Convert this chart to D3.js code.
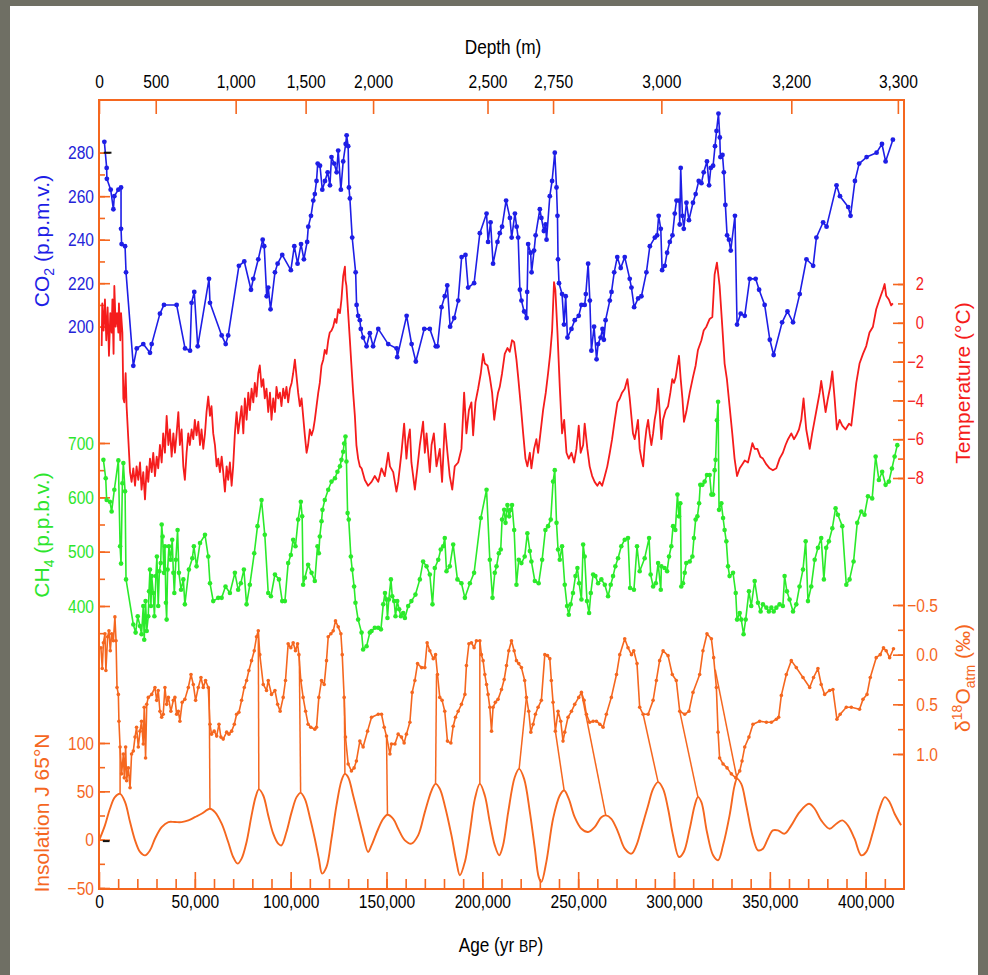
<!DOCTYPE html>
<html><head><meta charset="utf-8">
<script src="https://cdn.jsdelivr.net/npm/d3@7"></script>
<style>
html,body{margin:0;padding:0;background:#6f6f64;}
svg{display:block;}
</style></head><body>
<svg id="chart" width="988" height="975"></svg>
<script>
// ---------------- DATA ----------------
// CO2 (p.p.m.v.)  [age yr BP, value]
const co2 = [[2800,285],[4000,273],[4100,268],[6100,263],[7500,254],[8000,260],[10100,263],[11500,264],[11500,245],[11800,238],[13600,237],[14100,225],[17900,182],[19700,190],[23100,192],[26600,188],[27500,192],[31800,206],[33900,210],[40500,210],[44900,190],[47500,189],[48300,211],[49700,216],[51500,191],[57400,222],[57900,211],[64000,196],[66100,192],[67400,196],[73000,228],[75800,230],[79300,217],[80500,222],[83100,231],[85400,240],[86200,237],[87500,214],[88300,218],[89500,208],[91800,225],[93200,229],[95600,233],[100100,226],[101900,237],[103600,229],[105400,238],[106900,231],[108600,239],[109200,246],[110600,251],[111800,258],[112600,261],[113500,267],[114100,275],[115300,274],[116500,263],[117900,267],[119300,271],[120500,265],[121300,278],[122700,275],[124000,271],[124800,281],[126200,263],[127400,276],[128700,284],[129200,288],[130000,283],[130400,264],[130900,259],[132100,241],[133900,225],[134400,210],[135200,205],[136100,203],[136600,199],[137800,195],[139600,191],[141300,197],[143000,191],[145700,199],[150900,192],[155300,190],[155600,186],[160500,205],[163100,192],[165300,184],[169700,199],[172600,199],[175700,191],[176600,191],[178700,209],[180400,214],[181700,219],[183200,200],[185300,204],[187400,212],[189200,232],[191200,233],[192600,218],[195700,220],[198700,243],[202200,252],[203000,239],[204300,248],[205600,229],[207900,239],[209100,243],[210300,246],[212400,258],[214400,250],[215300,241],[217000,252],[217900,246],[218700,241],[219600,217],[220400,212],[221800,207],[223100,204],[223400,216],[223900,238],[225200,234],[225700,225],[227000,235],[227800,242],[230000,254],[230800,250],[232100,244],[233000,247],[233500,240],[235200,260],[236400,267],[237800,280],[238700,264],[239200,251],[239500,231],[240000,220],[241600,215],[242600,201],[243500,214],[244400,195],[246500,199],[248200,203],[250300,205],[251700,210],[253400,210],[254000,215],[255200,229],[256100,212],[256900,189],[258300,200],[259600,185],[260400,192],[261700,195],[262700,199],[263400,194],[264300,203],[266500,212],[267400,216],[268800,225],[270400,232],[272200,227],[274300,232],[276900,222],[277800,218],[279200,209],[281300,213],[283000,214],[285600,225],[287400,237],[290000,241],[291200,242],[292000,251],[293100,245],[293800,226],[295200,228],[296400,234],[297800,239],[299200,242],[300400,252],[301300,258],[302700,258],[303000,247],[303500,273],[304400,251],[305100,245],[306500,257],[307800,249],[309900,257],[311300,261],[312900,267],[314300,266],[315500,271],[317200,276],[318300,265],[319200,273],[320400,274],[321400,283],[322200,290],[323200,298],[323900,287],[324200,278],[325300,279],[326000,271],[326800,256],[327700,242],[328700,240],[329600,235],[331800,251],[332900,201],[334800,206],[336900,205],[339500,222],[342600,222],[344400,217],[347300,210],[350000,194],[352000,187],[356400,202],[359200,207],[362100,202],[365600,215],[369100,231],[372600,228],[374300,241],[377800,248],[379600,246],[384800,265],[386600,260],[390900,255],[392100,251],[394400,267],[396600,275],[400500,278],[405700,280],[408500,284],[410400,276],[414200,286]];

// Temperature (°C)  [age, value]
const temperature = [[1400,-1.2],[1700,1.0],[2400,-0.4],[3100,1.2],[3800,-0.9],[4500,0.8],[5200,-1.7],[5900,0.5],[6600,-0.5],[7000,1.2],[7600,-1.6],[8000,1.9],[8700,-0.2],[9400,0.5],[10100,-0.5],[10400,1.0],[11100,-0.9],[11500,0.5],[12200,-0.5],[12700,-3.9],[13200,-4.1],[13900,-2.6],[14400,-4.3],[15300,-6.0],[16200,-7.7],[17000,-8.2],[17900,-7.5],[18800,-8.4],[19600,-7.4],[20500,-8.1],[21400,-7.2],[22200,-8.6],[23100,-7.7],[24000,-9.1],[24900,-7.4],[25700,-8.2],[26600,-7.0],[27500,-7.7],[28300,-6.7],[29200,-7.9],[30100,-6.9],[30900,-7.5],[31800,-6.3],[32700,-7.2],[33500,-5.7],[34400,-6.7],[35300,-4.8],[36200,-6.3],[37000,-5.5],[37900,-6.9],[38800,-5.7],[39600,-6.7],[40500,-5.7],[41400,-4.6],[42200,-6.3],[43100,-5.5],[44000,-7.4],[44800,-8.1],[45700,-6.7],[46600,-5.7],[47400,-6.3],[48300,-5.5],[49200,-6.0],[50000,-5.0],[50900,-5.8],[51800,-5.1],[52700,-6.3],[53500,-5.5],[54400,-6.5],[55300,-5.7],[56100,-4.6],[57000,-3.8],[57900,-4.8],[58700,-4.3],[59600,-5.7],[60500,-6.3],[61400,-7.4],[62200,-7.0],[63100,-7.7],[64000,-6.9],[64800,-7.7],[65700,-8.7],[66600,-7.4],[67400,-8.1],[68300,-7.2],[69200,-8.4],[70000,-7.4],[70900,-5.7],[71800,-4.6],[72600,-5.7],[73500,-5.0],[74400,-4.3],[75300,-5.7],[76100,-3.9],[77000,-5.0],[77900,-3.6],[78700,-4.5],[79600,-3.4],[80500,-4.1],[81300,-3.1],[82200,-3.8],[83100,-2.6],[83900,-2.2],[84800,-3.3],[85700,-2.9],[86500,-3.9],[87400,-3.4],[88300,-4.6],[89200,-3.6],[90000,-5.0],[90900,-3.9],[91800,-4.6],[92600,-3.3],[93500,-3.9],[94400,-3.6],[95200,-4.3],[96100,-3.4],[97000,-3.9],[97800,-3.3],[98700,-4.1],[99600,-3.4],[100500,-3.1],[101300,-2.6],[102200,-1.9],[103100,-2.8],[103900,-3.6],[104800,-4.3],[105700,-3.9],[106500,-4.8],[107400,-5.8],[108300,-6.7],[109100,-6.3],[110000,-5.5],[110900,-5.8],[111800,-5.5],[112600,-5.0],[113500,-4.3],[114400,-3.6],[115200,-3.1],[116100,-2.2],[117000,-1.9],[117800,-1.4],[118700,-1.6],[119600,-0.9],[120400,-0.5],[121300,-0.4],[122200,-0.2],[123100,0.2],[123900,0.0],[124800,0.7],[125700,0.5],[126500,1.2],[127400,2.4],[128300,2.9],[128600,2.2],[129100,1.9],[130000,0.5],[130900,-0.9],[131700,-2.2],[132600,-3.6],[133500,-4.8],[134300,-6.3],[135200,-7.0],[136100,-7.4],[137000,-7.5],[138700,-8.1],[140400,-8.4],[142200,-8.2],[143900,-7.9],[145700,-8.2],[147400,-7.5],[149100,-7.9],[150900,-6.7],[151800,-7.4],[153500,-7.7],[155200,-8.7],[156100,-8.2],[157800,-6.7],[159200,-5.2],[160400,-7.0],[161300,-6.0],[162200,-5.5],[163000,-7.2],[164800,-8.6],[166200,-7.4],[167400,-6.3],[169100,-5.1],[170000,-6.7],[170900,-5.7],[172600,-7.7],[173500,-6.3],[174700,-5.7],[176100,-7.4],[177800,-6.5],[179000,-8.2],[180400,-5.2],[181800,-6.7],[183000,-7.9],[184300,-8.6],[185600,-7.4],[187400,-7.2],[189100,-6.5],[190500,-3.6],[191700,-5.7],[193000,-4.5],[194300,-4.1],[195200,-5.8],[196400,-4.1],[197800,-3.4],[199200,-2.6],[200400,-1.6],[201300,-2.1],[202700,-2.2],[203900,-2.8],[205100,-3.6],[206200,-5.0],[207400,-4.1],[208200,-3.6],[209100,-3.3],[210300,-2.6],[211700,-1.6],[213100,-1.3],[214300,-1.5],[215500,-0.9],[216600,-1.0],[217800,-1.9],[218700,-2.8],[220100,-4.3],[221300,-5.7],[222500,-7.0],[223500,-7.4],[224800,-6.7],[225600,-7.5],[227000,-6.5],[228200,-6.0],[229100,-6.7],[230300,-5.7],[231700,-4.5],[233100,-3.6],[234300,-2.6],[235400,-1.6],[236400,-0.4],[237400,2.1],[238100,1.7],[239200,-0.5],[240400,-3.3],[241600,-5.7],[242700,-5.0],[243900,-6.7],[245100,-7.0],[246500,-6.7],[247900,-7.2],[249100,-6.5],[250300,-5.3],[251300,-6.7],[252600,-6.3],[253400,-5.2],[254800,-6.5],[256000,-7.4],[257300,-7.9],[258600,-8.2],[260000,-8.4],[261200,-8.2],[262500,-8.4],[263900,-7.9],[265200,-7.4],[266500,-6.7],[267700,-6.0],[269100,-5.0],[270500,-4.1],[271700,-3.9],[272900,-3.6],[274300,-3.4],[275700,-2.9],[276900,-3.9],[278600,-5.7],[279500,-6.0],[280400,-5.5],[281200,-5.0],[282100,-6.5],[283000,-7.0],[283900,-7.4],[284700,-6.3],[285600,-5.5],[286500,-5.0],[287300,-5.7],[288200,-6.3],[289100,-5.7],[289900,-5.0],[290800,-4.5],[291700,-3.4],[292500,-4.5],[293400,-6.0],[294300,-5.0],[295700,-4.5],[296900,-4.3],[298100,-3.6],[299100,-2.9],[300000,-3.1],[300900,-2.8],[301800,-2.2],[302600,-1.7],[303500,-2.9],[304400,-3.9],[305200,-5.1],[306400,-4.6],[308200,-3.6],[309900,-2.8],[311300,-2.2],[312500,-1.4],[314300,-0.9],[315500,-0.4],[316900,-0.2],[318600,0.2],[320000,0.3],[321200,2.5],[322400,3.1],[323800,1.9],[325200,-0.2],[326400,-2.1],[327600,-2.9],[329000,-4.3],[330400,-5.7],[331600,-7.0],[332900,-7.9],[334300,-7.5],[335600,-7.3],[336900,-7.1],[338600,-7.2],[339800,-6.7],[340900,-6.2],[342100,-6.5],[343500,-6.5],[345000,-6.9],[346400,-7.0],[348200,-7.3],[349900,-7.5],[351600,-7.6],[353400,-7.5],[355100,-7.0],[356800,-6.7],[358200,-6.3],[359500,-6.0],[361200,-5.7],[362600,-6.0],[363800,-5.8],[365200,-5.5],[366400,-5.0],[367600,-3.9],[369000,-5.5],[370800,-6.5],[372100,-5.7],[373400,-5.0],[374700,-4.3],[376000,-3.6],[376800,-3.0],[377700,-3.6],[379100,-4.6],[380300,-3.9],[381500,-3.3],[382600,-2.5],[383800,-3.9],[385000,-5.5],[386400,-5.0],[387800,-5.3],[389500,-5.5],[391300,-5.2],[392500,-5.3],[393700,-4.3],[395100,-3.1],[396800,-2.1],[398600,-1.6],[400300,-1.2],[402000,-0.5],[403800,-0.2],[405500,0.7],[407200,1.2],[409000,1.7],[409900,2.0],[410700,1.4],[412100,1.2],[413300,0.9],[414200,1.0]];

// CH4 (p.p.b.v.)  [age, value]
const ch4 = [[2300,669],[3500,635],[4000,595],[5700,592],[6600,574],[8000,614],[10100,668],[11000,510],[11500,478],[12200,626],[12700,663],[13600,611],[14100,449],[17900,366],[19100,351],[20200,381],[21400,363],[22200,348],[23100,400],[23600,338],[24300,409],[24900,354],[25700,381],[26100,427],[26600,467],[27100,400],[27500,455],[28300,424],[28900,381],[29700,455],[30200,491],[30900,400],[31500,464],[32200,479],[32700,550],[33200,528],[33900,461],[34400,510],[34900,406],[35300,375],[35800,467],[36500,510],[37400,485],[38200,522],[38800,461],[39300,424],[40100,485],[41000,540],[41700,461],[42800,430],[44000,449],[44800,403],[46900,467],[48700,488],[49500,510],[50900,473],[52700,516],[55300,531],[57000,491],[57900,442],[59600,409],[62200,415],[64000,415],[66000,436],[68300,424],[70900,461],[72600,430],[74000,442],[75600,467],[77000,403],[78700,439],[81000,497],[82700,547],[84800,595],[86500,531],[88300,424],[89700,418],[91800,458],[93900,449],[95600,409],[97000,409],[98700,479],[100100,494],[101300,522],[102500,510],[103900,559],[105300,592],[106000,565],[106500,439],[107400,452],[109100,476],[110900,461],[112600,446],[114000,510],[114700,497],[115200,528],[116100,556],[116600,577],[117800,595],[119600,614],[121300,629],[123100,635],[124400,647],[125700,657],[126500,669],[127400,684],[127900,699],[128600,712],[129100,666],[129700,571],[130300,559],[131400,491],[132100,467],[133100,436],[133800,406],[135200,375],[137000,351],[137800,320],[139600,326],[141300,351],[142200,354],[143900,360],[145700,360],[147100,357],[148300,403],[149200,424],[150000,412],[150500,378],[151200,412],[152300,449],[153000,418],[154000,409],[154700,381],[155600,409],[156600,394],[157500,381],[158700,387],[159600,378],[161300,400],[163000,409],[165100,421],[167400,449],[169100,482],[170900,473],[172600,458],[174000,403],[175200,470],[177000,485],[178300,504],[179600,510],[180400,525],[181300,464],[183000,473],[184800,513],[187000,449],[189100,442],[190900,415],[193500,442],[195700,461],[199200,562],[202200,614],[203900,485],[205300,415],[206500,461],[207400,473],[208600,497],[209600,504],[210300,559],[211400,577],[212100,553],[213100,586],[214000,565],[214800,577],[215500,586],[216600,540],[217800,439],[219000,485],[220400,479],[222100,491],[223500,534],[224800,501],[225600,482],[227400,446],[229400,442],[231200,485],[232900,540],[234300,547],[235700,559],[236900,629],[237800,650],[238700,553],[239500,504],[240400,485],[241600,510],[243000,439],[244200,400],[245100,384],[246100,403],[247300,424],[248600,455],[249600,470],[250500,442],[251700,412],[252600,513],[253400,491],[254600,409],[255700,387],[256600,424],[257800,458],[259000,455],[260400,442],[262100,449],[263900,439],[265600,418],[267000,439],[268200,455],[269400,473],[270800,488],[272500,510],[274300,522],[276000,525],[277100,433],[279100,430],[280700,510],[282100,464],[284700,488],[287000,525],[287800,458],[289100,436],[290500,442],[291700,479],[293100,430],[293400,473],[295100,470],[296400,464],[297400,491],[298600,510],[299500,547],[300700,540],[301800,605],[302600,565],[303300,589],[303800,436],[304700,442],[305600,461],[306400,479],[308200,482],[309600,491],[310400,525],[311300,559],[312200,565],[313100,589],[313700,623],[314800,623],[316000,629],[317200,641],[318600,641],[319500,605],[320400,605],[321200,650],[321700,669],[322400,742],[323000,776],[323500,577],[324700,589],[325600,562],[326400,540],[327300,519],[328200,473],[329000,455],[330800,461],[332200,424],[332900,375],[334300,387],[335100,375],[336300,348],[337400,375],[339100,427],[340300,400],[342100,446],[343800,406],[345200,390],[346400,403],[348200,397],[349500,390],[350800,397],[352000,390],[353400,397],[355100,403],[356800,400],[357700,455],[358900,427],[360300,412],[362100,390],[363800,403],[365500,436],[367300,467],[368700,519],[369900,409],[371600,436],[373400,485],[375100,507],[376800,525],[378200,449],[379400,507],[380800,519],[382600,543],[384300,580],[385500,568],[387800,547],[389900,439],[391600,449],[393700,482],[395600,553],[397700,574],[399400,568],[401200,602],[403400,598],[405200,675],[406900,632],[408600,647],[410400,623],[412100,629],[413700,653],[415100,675],[416500,696]];

// δ18O atm (‰)  [age, value]
const d18o = [[1000,-0.07],[1700,0.14],[2300,-0.12],[3100,-0.21],[3600,0.16],[4500,-0.18],[5200,-0.24],[5900,-0.04],[6600,-0.21],[7500,-0.14],[8300,-0.38],[8900,-0.14],[9400,0.33],[10100,0.40],[10400,0.67],[11000,0.93],[11800,1.20],[12700,1.00],[13200,1.24],[13900,0.93],[14400,1.27],[15300,1.14],[16200,1.34],[17000,1.00],[17900,0.97],[18800,0.83],[19600,0.73],[20500,0.93],[21400,0.77],[22200,0.67],[23100,0.90],[23600,0.53],[24300,1.04],[24900,0.50],[25700,0.43],[27500,0.40],[29200,0.33],[30100,0.46],[30900,0.36],[31800,0.57],[32700,0.63],[33500,0.60],[34400,0.33],[35300,0.50],[36200,0.43],[37500,0.57],[38800,0.46],[39600,0.43],[40500,0.60],[41400,0.57],[42200,0.67],[43400,0.48],[44800,0.45],[46600,0.33],[48000,0.20],[49200,0.30],[50400,0.46],[51800,0.33],[53200,0.23],[54400,0.33],[55600,0.26],[57000,0.33],[57900,0.70],[58700,0.80],[60100,0.77],[61400,0.82],[62600,0.70],[63600,0.83],[64800,0.85],[66600,0.78],[67800,0.80],[69200,0.77],[70600,0.70],[71800,0.60],[73000,0.58],[74400,0.46],[75800,0.33],[77000,0.26],[78200,0.16],[79600,0.06],[81000,-0.04],[82200,-0.18],[83100,-0.24],[83900,0.00],[85700,0.30],[87400,0.36],[88300,0.26],[90000,0.40],[91800,0.36],[93200,0.50],[94500,0.57],[96100,0.43],[97300,0.26],[98700,-0.11],[100100,-0.07],[101300,-0.12],[102500,-0.04],[103600,-0.11],[104300,0.00],[105300,0.26],[106500,0.43],[107800,0.57],[109100,0.70],[110500,0.73],[112600,0.75],[113500,0.73],[114700,0.43],[116100,0.26],[117500,0.30],[118700,0.06],[119600,-0.18],[121000,-0.21],[122200,-0.24],[123400,-0.34],[124800,-0.28],[126200,-0.21],[126900,0.00],[127900,0.43],[128600,0.83],[130000,1.10],[131700,1.17],[133100,1.14],[134300,1.07],[136100,0.87],[137800,0.93],[140100,0.77],[142200,0.63],[145700,0.60],[147400,0.60],[148800,0.73],[150000,0.82],[151800,1.00],[152600,0.90],[154400,0.90],[156100,0.80],[157800,0.83],[159200,0.89],[160400,0.80],[162200,0.68],[163400,0.38],[164800,0.26],[166200,0.09],[168300,0.13],[170000,0.13],[171200,-0.12],[172600,-0.04],[174400,0.04],[175600,0.00],[176600,0.20],[177800,0.43],[179000,0.46],[180400,0.57],[181800,0.87],[183600,0.89],[184800,0.72],[186000,0.63],[187400,0.57],[189100,0.50],[190900,0.40],[191700,0.11],[193000,-0.11],[194300,-0.12],[195700,-0.07],[196900,-0.14],[198700,-0.14],[199500,0.00],[200400,0.06],[201300,0.20],[202200,0.30],[203000,0.40],[203900,0.53],[204800,0.77],[205600,0.53],[206800,0.48],[208200,0.45],[210000,0.35],[211400,0.25],[212600,0.11],[213800,-0.04],[215200,-0.14],[216600,-0.04],[217800,0.06],[219000,0.09],[220400,0.13],[222100,0.26],[223000,0.43],[224200,0.57],[225300,0.78],[226500,0.70],[227700,0.60],[229100,0.53],[230800,0.46],[232600,0.00],[234000,0.01],[235200,0.04],[236000,0.26],[236900,0.48],[238100,0.77],[239500,0.57],[240900,0.67],[242100,0.87],[243000,0.78],[244700,0.63],[246500,0.57],[248200,0.50],[250300,0.43],[251700,0.38],[253100,0.46],[254300,0.60],[256000,0.68],[257800,0.67],[259500,0.67],[261300,0.70],[263000,0.73],[264700,0.60],[267300,0.43],[270000,0.20],[271700,0.00],[274300,-0.16],[276000,-0.07],[277800,0.00],[279000,-0.04],[280700,0.09],[282100,0.53],[283900,0.60],[286500,0.60],[289100,0.46],[290800,0.26],[292500,0.06],[294300,-0.04],[296900,0.01],[299100,0.20],[301200,0.26],[303000,0.57],[305600,0.60],[307800,0.57],[309900,0.38],[313400,0.20],[315100,-0.04],[317200,-0.21],[319500,-0.16],[320700,0.03],[322100,0.33],[323000,0.78],[323800,1.04],[325600,1.10],[327700,1.14],[329900,1.20],[332200,1.24],[334300,1.17],[335500,1.07],[336900,0.93],[339100,0.83],[341200,0.70],[344700,0.67],[348200,0.68],[350800,0.68],[353400,0.65],[354600,0.63],[356000,0.41],[358600,0.20],[361200,0.06],[363800,0.13],[367300,0.23],[370800,0.33],[372800,0.23],[375100,0.14],[376800,0.30],[378600,0.40],[381200,0.36],[382900,0.35],[385000,0.65],[386700,0.60],[389900,0.53],[392500,0.53],[396800,0.55],[398600,0.45],[400700,0.40],[402400,0.23],[405500,0.03],[407600,0.00],[409300,-0.07],[410700,-0.04],[412500,0.03],[414500,-0.06]];

// Insolation J 65°N  [age, value]
const insolation = [[0,-1],[3100,14.8],[5700,32],[8300,44],[11000,47.4],[13600,38.8],[16200,18.2],[18800,-0.7],[21400,-12.7],[24000,-16.2],[26600,-11],[29200,1],[32700,13],[36200,18.2],[39600,18.2],[43100,18.2],[46600,19.9],[50000,23.3],[53500,26.8],[57900,32],[60500,28.5],[64000,16.5],[67400,-2.4],[70000,-17.9],[72300,-24.8],[74400,-19.6],[77000,-2.4],[79600,25.1],[81700,44],[83400,52],[85700,45.7],[88300,25.1],[90900,6.2],[93500,-4.1],[95200,-5.9],[97800,7.9],[100500,28.5],[103100,44],[105200,48.4],[107400,42.2],[110000,23.3],[112600,1],[114700,-19.6],[116400,-35.1],[118700,-28.2],[121300,1],[123900,35.4],[126500,61],[128300,68],[130000,64.6],[132600,45.7],[135200,25.1],[137800,4.4],[140400,-12.7],[142200,-6],[145700,11.3],[148300,21.6],[150500,25.8],[153500,21.6],[156100,11.3],[159600,-0.7],[163000,-4.1],[166500,4.4],[170000,28.5],[173500,50.8],[175600,57.7],[177800,52.6],[180400,35.4],[183900,4.4],[186500,-23],[188300,-36.8],[190900,-23],[193500,7.9],[196100,42.2],[198700,57.7],[201300,45.7],[203900,18.2],[206500,-5.9],[208800,-16.2],[210800,-5.9],[213500,28.5],[216900,64.6],[219200,73.2],[221800,62.9],[224800,28.5],[227400,-9.3],[229400,-38.5],[230800,-43.7],[233400,-23],[236900,21.6],[240400,45.7],[242700,50.8],[245100,42.2],[248200,23.3],[251700,11.3],[255200,7.9],[258600,13],[262100,23.3],[264400,25.1],[267300,21.6],[270800,7.9],[274300,-9.3],[277800,-14.5],[280400,-5.9],[283000,11.3],[286500,35.4],[289100,52.6],[291700,59.5],[294300,52.6],[296900,32],[299500,4.4],[302600,-17.9],[305100,-12.7],[308200,11.3],[310800,35.4],[312500,44],[314300,38.8],[317200,7.9],[320400,-16.2],[323000,-21.3],[325600,-5.9],[329000,25.1],[331600,55.9],[332900,62.9],[335100,57.7],[337700,35.4],[340900,4.4],[343800,-11],[346400,-9.3],[349000,1],[351600,9.6],[354200,9.6],[357700,6.2],[361200,14.8],[365500,28.5],[370400,37.1],[373400,32],[376800,19.9],[381200,11.3],[384700,16.5],[387800,19.9],[390700,14.8],[394200,1],[397700,-16.2],[400300,-12.7],[403800,7.9],[407200,32],[410000,44],[412500,38.8],[415100,26.8],[418500,14.8]];

// Tie lines between δ18O events and insolation maxima: [age on δ18O, δ18O, age on insolation, insolation]
const tieLines = [[11000,0.93,11000,47.4],[57500,0.33,57900,32],[83100,-0.24,83400,52],[104500,0.0,105200,48.4],[128000,0.43,128300,68],[150000,0.82,150500,25.8],[176100,0.2,175600,57.7],[198700,-0.14,198700,57.7],[223000,0.43,219200,73.2],[238100,0.77,242700,50.8],[251700,0.38,264400,25.1],[283900,0.60,291700,59.5],[303000,0.57,312500,44],[321500,0.15,332900,62.9]];

// Present-day reference marks
const presentMarks = [{axis:"co2", age:[2500,6500], value:280},{axis:"ins", age:[2000,5500], value:-1.5}];

// Axis ticks
const ageTicks = [0,50000,100000,150000,200000,250000,300000,350000,400000];
const ageMinorTicks = d3.range(10000, 420000, 10000);
const depthLabels = ["0","500","1,000","1,500","2,000","2,500","2,750","3,000","3,200","3,300"];
const depthTickAges = [0,29600,71300,107800,143000,202700,236900,293400,361200,416800];
const co2Ticks = [200,220,240,260,280];
const co2MinorTicks = [200,210,220,230,240,250,260,270,280];
const ch4Ticks = [400,500,600,700];
const ch4MinorTicks = [350,400,450,500,550,600,650,700];
const insTicks = [-50,0,50,100];
const insMinorTicks = [-50,-25,0,25,50,75,100];
const tempTicks = [2,0,-2,-4,-6,-8];
const tempMinorTicks = [2,1,0,-1,-2,-3,-4,-5,-6,-7,-8];
const d18Ticks = [-0.5,0,0.5,1.0];
const d18MinorTicks = [-0.5,-0.25,0,0.25,0.5,0.75,1.0];

// ---------------- DRAWING ----------------
const W = 988, H = 975;
const L = 99, R = 904, T = 100, B = 889;
const ORANGE = "#f5671f", BLUE = "#1e1ee6", RED = "#f51c1c", GREEN = "#2bea2b";
const SANS = "'Liberation Sans',Arial,sans-serif";
const SX = 0.82; // horizontal condensation of tick/axis labels

const svg = d3.select("#chart");
svg.append("rect").attr("width", W).attr("height", H).attr("fill", "#6f6f64");
svg.append("rect").attr("x", 10).attr("y", 6).attr("width", 968).attr("height", H - 6).attr("fill", "#ffffff");

const x = d3.scaleLinear().domain([0, 420000]).range([L, R]);
const yCO2 = d3.scaleLinear().domain([200, 280]).range([326.7, 152.7]);
const yT = d3.scaleLinear().domain([-8, 2]).range([478, 284]);
const yCH4 = d3.scaleLinear().domain([400, 700]).range([606, 443]);
const yD = d3.scaleLinear().domain([-0.5, 1.0]).range([605, 754]);
const yI = d3.scaleLinear().domain([-50, 100]).range([888, 743]);

function styleAxis(g, color, size) {
  g.select(".domain").remove();
  g.attr("font-family", SANS).attr("font-size", size || 17);
  g.selectAll(".tick line").attr("stroke", ORANGE).attr("stroke-width", 1.6);
  g.selectAll(".tick text").attr("fill", color);
}
function condense(g) {
  g.selectAll(".tick text").each(function () {
    const t = d3.select(this);
    const xx = +t.attr("x") || 0;
    t.attr("x", xx / SX).attr("transform", `scale(${SX},1)`);
  });
}
const minus = s => String(s).replace("-", "\u2212");

// Left axes
function leftAxis(scale, majors, minors, color, fmt) {
  const gm = svg.append("g").attr("transform", `translate(${L},0)`)
    .call(d3.axisLeft(scale).tickValues(minors).tickSize(-6).tickFormat(""));
  styleAxis(gm, color);
  const g = svg.append("g").attr("transform", `translate(${L},0)`)
    .call(d3.axisLeft(scale).tickValues(majors).tickSize(-11).tickPadding(5).tickFormat(fmt));
  styleAxis(g, color, 19);
  condense(g);
}
leftAxis(yCO2, co2Ticks, co2MinorTicks, "#2424d8", d => d);
leftAxis(yCH4, ch4Ticks, ch4MinorTicks, "#2de52d", d => d);
leftAxis(yI, insTicks, insMinorTicks, ORANGE, d => minus(d));

// Right axes
function rightAxis(scale, majors, minors, color, fmt, endX, size) {
  const gm = svg.append("g").attr("transform", `translate(${R},0)`)
    .call(d3.axisRight(scale).tickValues(minors).tickSize(-6).tickFormat(""));
  styleAxis(gm, color);
  const g = svg.append("g").attr("transform", `translate(${R},0)`)
    .call(d3.axisRight(scale).tickValues(majors).tickSize(-11).tickFormat(fmt));
  styleAxis(g, color, size);
  g.selectAll(".tick text").attr("x", endX).attr("text-anchor", "end");
  condense(g);
}
rightAxis(yT, tempTicks, tempMinorTicks, RED, d => minus(d), 20, 18);
rightAxis(yD, d18Ticks, d18MinorTicks, ORANGE, d => minus(d3.format(".1f")(d)), 34, 19);

// Bottom axis
const gbm = svg.append("g").attr("transform", `translate(0,${B})`)
  .call(d3.axisBottom(x).tickValues(ageMinorTicks).tickSize(-10).tickFormat(""));
styleAxis(gbm, "#000");
const gb = svg.append("g").attr("transform", `translate(0,${B})`)
  .call(d3.axisBottom(x).tickValues(ageTicks).tickSize(-17).tickPadding(6).tickFormat(d3.format(",")));
styleAxis(gb, "#000", 19);
condense(gb);

// Top (depth) axis
const gt = svg.append("g").attr("transform", `translate(0,${T})`)
  .call(d3.axisTop(x).tickValues(depthTickAges).tickSize(-14).tickPadding(12).tickFormat((d, i) => depthLabels[i]));
styleAxis(gt, "#000", 19);
condense(gt);

// Frame
svg.append("rect").attr("x", L).attr("y", T).attr("width", R - L).attr("height", B - T)
  .attr("fill", "none").attr("stroke", ORANGE).attr("stroke-width", 2);

// Series
const plot = svg.append("g");
function series(data, ys, color, width, r, curve) {
  const line = d3.line().x(d => x(d[0])).y(d => ys(d[1])).curve(curve || d3.curveLinear);
  plot.append("path").datum(data).attr("d", line).attr("fill", "none")
    .attr("stroke", color).attr("stroke-width", width).attr("stroke-linejoin", "round");
  if (r) plot.append("g").selectAll("circle").data(data).join("circle")
    .attr("cx", d => x(d[0])).attr("cy", d => ys(d[1])).attr("r", r).attr("fill", color);
}
series(insolation, yI, ORANGE, 1.9, 0, d3.curveCatmullRom.alpha(0.5));
plot.append("g").selectAll("line").data(tieLines).join("line")
  .attr("x1", d => x(d[0])).attr("y1", d => yD(d[1]))
  .attr("x2", d => x(d[2])).attr("y2", d => yI(d[3]))
  .attr("stroke", ORANGE).attr("stroke-width", 1.5);
series(d18o, yD, ORANGE, 1.6, 1.8);
series(ch4, yCH4, GREEN, 1.6, 2.3);
series(temperature, yT, RED, 1.8, 0);
series(co2, yCO2, BLUE, 1.6, 2.4);

// present-day marks
plot.append("g").selectAll("line").data(presentMarks).join("line")
  .attr("x1", d => x(d.age[0])).attr("x2", d => x(d.age[1]))
  .attr("y1", d => d.axis === "co2" ? yCO2(d.value) : yI(d.value))
  .attr("y2", d => d.axis === "co2" ? yCO2(d.value) : yI(d.value))
  .attr("stroke", "#111").attr("stroke-width", 2);

// Titles
svg.append("text").attr("transform", `translate(503,54) scale(${SX},1)`).attr("text-anchor", "middle")
  .attr("font-family", SANS).attr("font-size", 21).attr("fill", "#000").text("Depth (m)");
const age = svg.append("text").attr("transform", `translate(501,952) scale(${SX},1)`).attr("text-anchor", "middle")
  .attr("font-family", SANS).attr("font-size", 21).attr("fill", "#000");
age.append("tspan").text("Age (yr ");
age.append("tspan").attr("font-size", 17).text("BP");
age.append("tspan").text(")");

function vTitle(cx, cy, color, parts) {
  const t = svg.append("text").attr("transform", `translate(${cx},${cy}) rotate(-90)`)
    .attr("text-anchor", "middle").attr("font-family", SANS).attr("font-size", 21).attr("fill", color);
  parts.forEach(p => {
    const s = t.append("tspan").text(p[0]);
    if (p[1] === "sub") s.attr("font-size", 14).attr("dy", 5);
    if (p[1] === "sup") s.attr("font-size", 14).attr("dy", -8);
    if (p[1] === "back") s.attr("dy", p[2]);
  });
}
vTitle(49, 241, BLUE, [["CO"], ["2", "sub"], [" (p.p.m.v.)", "back", -5]]);
vTitle(49, 535, "#2de52d", [["CH"], ["4", "sub"], [" (p.p.b.v.)", "back", -5]]);
vTitle(49, 813, ORANGE, [["Insolation J 65°N"]]);
vTitle(970, 383, RED, [["Temperature (°C)"]]);
vTitle(970, 678, ORANGE, [["δ"], ["18", "sup"], ["O", "back", 8], ["atm", "sub"], [" (‰)", "back", -5]]);
</script>
</body></html>
